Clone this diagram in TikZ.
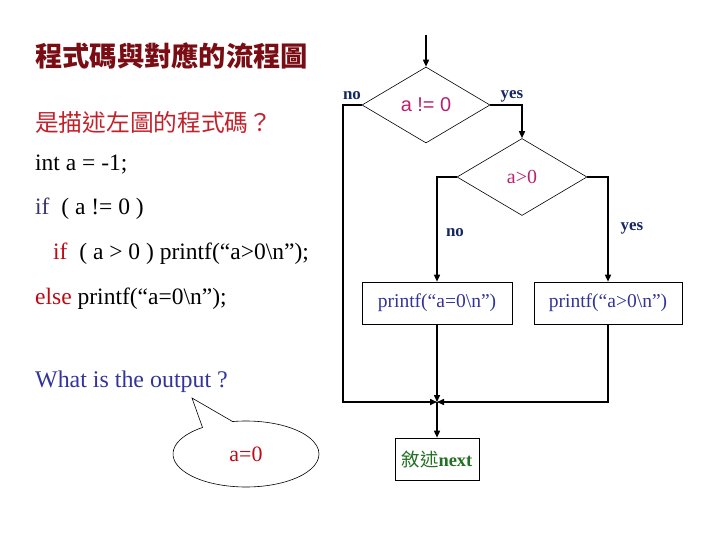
\documentclass[tikz,border=0pt]{standalone}
\usepackage{fontspec}
\setmainfont{Liberation Serif}
\setsansfont{Liberation Sans}
\newfontfamily\cjk{Noto Sans CJK TC}
\usepackage{tikz}
\usetikzlibrary{shapes.geometric, shapes.callouts, arrows.meta, positioning}

\definecolor{titlered}{RGB}{122,12,20}
\definecolor{subred}{RGB}{196,32,42}
\definecolor{keyred}{RGB}{190,10,20}
\definecolor{keyblue}{RGB}{55,55,110}
\definecolor{askblue}{RGB}{51,51,153}
\definecolor{condpink}{RGB}{184,32,112}
\definecolor{labblue}{RGB}{22,40,100}
\definecolor{nextgreen}{RGB}{34,112,34}

\begin{document}
\begin{tikzpicture}[
        x=1bp, y=-1bp,
        txt/.style={inner sep=0pt, anchor=base west, font=\fontsize{23.6}{28}\selectfont},
        cond/.style={diamond, draw=black, line width=0.6bp, minimum width=128bp, minimum height=76bp, inner sep=0pt, text=condpink, font=\fontsize{20}{24}\selectfont},
        stmt/.style={rectangle, draw=black, line width=0.6bp, minimum height=42bp, inner sep=0pt, text=askblue, font=\fontsize{19.6}{23}\selectfont},
        lab/.style={inner sep=0pt, text=labblue, font=\fontsize{17}{20}\selectfont\bfseries},
        flow/.style={line width=1.5bp, draw=black},
        arrow/.style={flow, -{Triangle[length=7bp, width=6bp]}}
    ]
        \useasboundingbox (0,0) rectangle (720,540);

        % Titles
        \node[inner sep=0pt, anchor=west, text=titlered, font=\cjk\bfseries\fontsize{27.4}{31}\selectfont] (title) at (35,56) {程式碼與對應的流程圖};
        \node[inner sep=0pt, anchor=west, text=subred, font=\cjk\fontsize{23.8}{28}\selectfont] (sub) at (35,122) {是描述左圖的程式碼？};

        % Code lines
        \node[txt] (l1) at (35,171) {int a = -1;};
        \node[txt] (l2) at (35,215) {\textcolor{keyblue}{if}\ \ ( a != 0 )};
        \node[txt] (l3) at (53,260) {\textcolor{keyred}{if}\ \ ( a > 0 ) printf(“a>0\textbackslash n”);};
        \node[txt] (l4) at (35,304) {\textcolor{keyred}{else} printf(“a=0\textbackslash n”);};

        % Question and answer bubble
        \node[txt, text=askblue, font=\fontsize{24}{28}\selectfont] (ask) at (35,387) {What is the output ?};
        \node[ellipse callout, draw=black, line width=0.6bp, minimum width=146bp, minimum height=66bp, inner sep=0pt,
              callout absolute pointer={(192,398)}, callout pointer arc=26,
              text=keyred, font=\fontsize{22}{26}\selectfont] (bubble) at (246,454) {a=0};

        % Flow chart
        \coordinate (start) at (426,35);
        \node[cond, font=\fontsize{20}{24}\selectfont\sffamily] (c1) at (426,105) {a != 0};
        \node[cond, minimum width=130bp, minimum height=77bp] (c2) at (522,177) {a>0};
        \node[stmt, minimum width=150bp] (p0) at (437,303) {printf(“a=0\textbackslash n”)};
        \node[stmt, minimum width=148bp] (p1) at (608,303) {printf(“a>0\textbackslash n”)};
        \node[rectangle, draw=black, line width=0.6bp, minimum width=84bp, minimum height=42bp, inner sep=0pt,
              text=nextgreen, font=\fontsize{18.5}{22}\selectfont] (nx) at (437,459) {{\cjk 敘述}\textbf{next}};
        \coordinate (jl) at (343,402);
        \coordinate (m) at (437,402);

        % Branch labels
        \node[lab] (no1) at (352,96) {no};
        \node[lab] (yes1) at (512,96) {yes};
        \node[lab] (no2) at (455,233) {no};
        \node[lab] (yes2) at (632,228) {yes};

        % Connections
        \draw[arrow] (start) -- (c1.north);
        \draw[arrow] (c1.east) -| (c2.north);
        \draw[arrow] (c1.west) -| (jl) -- (m);
        \draw[arrow] (c2.west) -| (p0.north);
        \draw[arrow] (c2.east) -| (p1.north);
        \draw[arrow] (p0.south) -- (m);
        \draw[arrow] (p1.south) |- (m);
        \draw[arrow] (m) -- (nx.north);

    \end{tikzpicture}
\end{document}
